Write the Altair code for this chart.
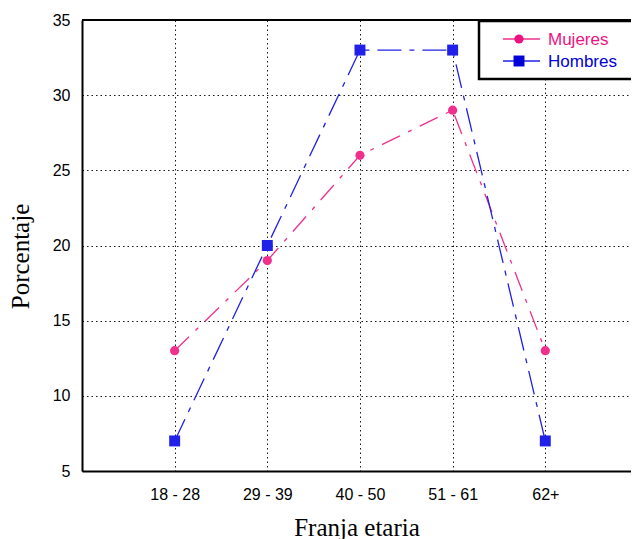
import altair as alt
import pandas as pd

categories = ["18 - 28", "29 - 39", "40 - 50", "51 - 61", "62+"]
mujeres = [13, 19, 26, 29, 13]
hombres = [7, 20, 33, 33, 7]
series_names = ["Mujeres", "Hombres"]
series_colors = ["#ee1280", "#0000d8"]
line_colors = ["#f0308c", "#2020e8"]
shapes = ["circle", "square"]

rows = []
for name, vals in zip(series_names, [mujeres, hombres]):
    for i, (c, v) in enumerate(zip(categories, vals)):
        rows.append({"serie": name, "idx": i + 1, "cat": c, "pct": v})
df = pd.DataFrame(rows)

W, H = 549, 451
label_expr = "{1:'18 - 28',2:'29 - 39',3:'40 - 50',4:'51 - 61',5:'62+'}[datum.value] || ''"

x = alt.X("idx:Q", scale=alt.Scale(domain=[0, 5.925], nice=False, zero=False),
          axis=alt.Axis(values=[1, 2, 3, 4, 5], labelExpr=label_expr, title="Franja etaria",
                        grid=True, ticks=False, labelFont="Liberation Sans", labelFontSize=16,
                        labelColor="black", labelPadding=15, titleFont="Liberation Serif",
                        titleFontSize=25, titleFontWeight="normal", titleColor="black",
                        titlePadding=13, domainColor="black", domainWidth=2,
                        gridColor="black", gridDash=[1.5, 3], gridOpacity=0.9))
y = alt.Y("pct:Q", scale=alt.Scale(domain=[5, 35], nice=False, zero=False),
          axis=alt.Axis(values=[5, 10, 15, 20, 25, 30, 35], title="Porcentaje", grid=True,
                        ticks=False, labelFont="Liberation Sans", labelFontSize=16,
                        labelColor="black", labelPadding=12, titleFont="Liberation Serif",
                        titleFontSize=25, titleFontWeight="normal", titleColor="black",
                        titlePadding=19, titleY=236, domainColor="black", domainWidth=2,
                        gridColor="black", gridDash=[1.5, 3], gridOpacity=0.9))

color_line = alt.Color("serie:N", scale=alt.Scale(domain=series_names, range=line_colors), legend=None)
dash = alt.StrokeDash("serie:N", scale=alt.Scale(domain=series_names,
                      range=[[20, 9, 4, 9], [24, 8, 5, 8]]), legend=None)

base = alt.Chart(df)
lines = base.mark_line(strokeWidth=1.3).encode(x=x, y=y, color=color_line, strokeDash=dash, detail="serie:N")
pts = base.mark_point(filled=True, opacity=1).encode(
    x="idx:Q", y="pct:Q",
    color=alt.Color("serie:N", scale=alt.Scale(domain=series_names, range=series_colors), legend=None),
    shape=alt.Shape("serie:N", scale=alt.Scale(domain=series_names, range=shapes), legend=None),
    size=alt.Size("serie:N", scale=alt.Scale(domain=series_names, range=[85, 120]), legend=None),
)

top_border = alt.Chart(pd.DataFrame({"a": [0]})).mark_rule(color="black", strokeWidth=2).encode(
    x=alt.value(0), x2=alt.value(W), y=alt.value(0))

legend_box = alt.Chart(pd.DataFrame({"a": [0]})).mark_rect(
    fill="white", stroke="black", strokeWidth=2.5).encode(
    x=alt.value(397), x2=alt.value(W + 4), y=alt.value(1), y2=alt.value(59))
legend_layers = [legend_box]
for i, name in enumerate(series_names):
    yy = 19 + 22 * i
    d = pd.DataFrame({"serie": [name]})
    legend_layers.append(alt.Chart(d).mark_rule(color=line_colors[i], strokeWidth=1.3).encode(
        x=alt.value(421), x2=alt.value(458), y=alt.value(yy)))
    legend_layers.append(alt.Chart(d).mark_point(filled=True, opacity=1, shape=shapes[i],
                                                  color=series_colors[i], size=[85, 120][i]).encode(
        x=alt.value(437), y=alt.value(yy)))
    legend_layers.append(alt.Chart(d).mark_text(align="left", baseline="middle", font="Liberation Sans",
                                                 fontSize=17, color=series_colors[i]).encode(
        x=alt.value(466), y=alt.value(yy + 1), text="serie:N"))

chart = alt.layer(lines, pts, top_border, *legend_layers).properties(
    width=W, height=H,
    padding={"left": 82, "top": 20, "right": 0, "bottom": 68},
    autosize=alt.AutoSizeParams(type="none"),
).configure_view(stroke=None).configure(background="white")

chart.save("out.html", embed_options={"renderer": "svg", "actions": False})
